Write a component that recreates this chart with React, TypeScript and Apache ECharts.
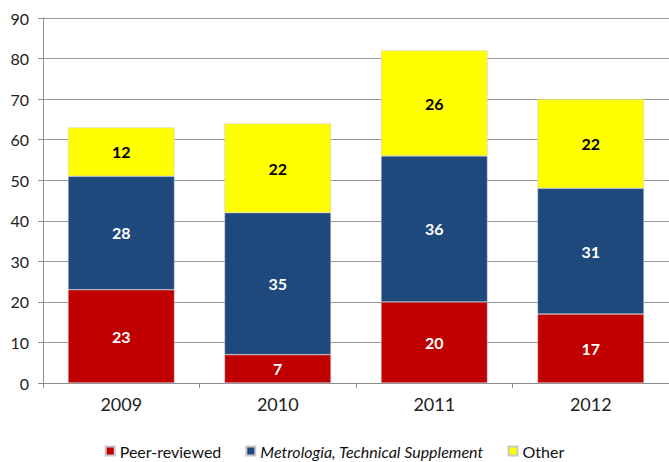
import React, { useEffect, useRef } from "react";
import * as echarts from "echarts";

const categories = ["2009", "2010", "2011", "2012"];
const peerReviewed = [23, 7, 20, 17];
const metrologia = [28, 35, 36, 31];
const other = [12, 22, 26, 22];
const seriesNames = ["Peer-reviewed", "Metrologia, Technical Supplement", "Other"];
const colors = ["#C00000", "#1F497D", "#FFFF00"];

const FONT = "Lato, 'Open Sans', sans-serif";

export default function App() {
  const ref = useRef<HTMLDivElement>(null);
  useEffect(() => {
    if (!ref.current) return;
    const chart = echarts.init(ref.current, null, { renderer: "svg" });
    const dataSets = [peerReviewed, metrologia, other];
    chart.setOption({
      animation: false,
      textStyle: { fontFamily: FONT },
      grid: { left: 43, top: 18, width: 628, height: 365, containLabel: false },
      xAxis: {
        type: "category",
        data: categories,
        axisLine: { lineStyle: { color: "#8c8c8c", width: 1 } },
        axisTick: { show: true, length: 5, alignWithLabel: false, lineStyle: { color: "#8c8c8c" } },
        axisLabel: { color: "#222", fontSize: 18, margin: 12, fontFamily: FONT },
      },
      yAxis: {
        type: "value",
        min: 0,
        max: 90,
        interval: 10,
        axisLine: { show: true, lineStyle: { color: "#8c8c8c", width: 1 } },
        axisTick: { show: true, length: 5, inside: false, lineStyle: { color: "#8c8c8c" } },
        axisLabel: { color: "#222", fontSize: 16, margin: 14, fontFamily: FONT },
        splitLine: { lineStyle: { color: "#999", width: 1 } },
      },
      legend: {
        top: 442,
        left: "center",
        padding: 0,
        itemWidth: 9,
        itemHeight: 9,
        itemGap: 24,
        icon: "rect",
        data: seriesNames,
        textStyle: {
          fontSize: 16,
          lineHeight: 18,
          color: "#111",
          fontFamily: FONT,
          rich: {
            it: { fontStyle: "italic", fontSize: 16, lineHeight: 18, color: "#111", fontFamily: FONT },
          },
        },
        formatter: (name: string) =>
          name.startsWith("Metrologia") ? `{it|${name}}` : name,
      },
      series: seriesNames.map((name, i) => ({
        name,
        type: "bar",
        stack: "total",
        barCategoryGap: "32%",
        data: dataSets[i],
        itemStyle: { color: colors[i], borderColor: "#c8c8c8", borderWidth: 0.5 },
        label: {
          show: true,
          position: "inside",
          color: i === 2 ? "#000" : "#fff",
          fontWeight: "bold",
          fontSize: 16,
          fontFamily: FONT,
        },
      })),
    });
    return () => chart.dispose();
  }, []);
  return (
    <div
      ref={ref}
      style={{ position: "fixed", left: 0, top: 0, width: 669, height: 462, background: "#fff" }}
    />
  );
}
